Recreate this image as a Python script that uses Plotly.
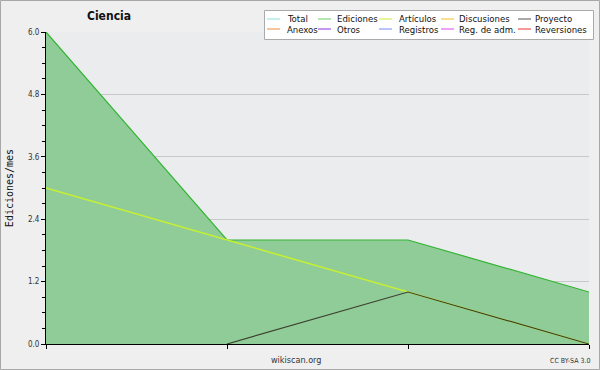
import plotly.graph_objects as go

# ---- data ----
periods = [0, 1, 2, 3]
series_names = ["Total", "Ediciones", "Artículos", "Discusiones", "Proyecto",
                "Anexos", "Otros", "Registros", "Reg. de adm.", "Reversiones"]
series_colors = ["#88e0e0", "#66cc66", "#ccee33", "#f0c020", "#555555",
                 "#f08840", "#8833dd", "#7788ff", "#dd44ee", "#ee3333"]
ediciones = [6.0, 2.0, 2.0, 1.0]
articulos = [3.0, 2.0, 1.0, 0.0]
proyecto = [None, 0.0, 1.0, 0.0]
y_ticks = [0.0, 1.2, 2.4, 3.6, 4.8, 6.0]

values = {"Ediciones": ediciones, "Artículos": articulos, "Proyecto": proyecto}

fig = go.Figure()
for name, color in zip(series_names, series_colors):
    if name == "Ediciones":
        fig.add_trace(go.Scatter(x=periods, y=values[name], name=name, mode="lines",
                                 line=dict(color="#33b533", width=1.2),
                                 fill="tozeroy", fillcolor="#90cc98"))
    elif name == "Artículos":
        fig.add_trace(go.Scatter(x=periods, y=values[name], name=name, mode="lines",
                                 line=dict(color="#c8f030", width=1.5)))
    elif name == "Proyecto":
        fig.add_trace(go.Scatter(x=periods, y=values[name], name=name, mode="lines",
                                 line=dict(color="#3c4030", width=1.2)))
    else:
        fig.add_trace(go.Scatter(x=[None], y=[None], name=name, mode="lines",
                                 line=dict(color=color, width=1.2)))

L, R, T, B = 46, 11, 32, 26
W, H = 600, 370
pw, ph = W - L - R, H - T - B

def px_x(p):
    return (p - L) / pw

def px_y(p):
    return (H - B - p) / ph

# ---- hand-laid legend (layout only) ----
legend_line_x = [267, 318, 379, 441, 518]
legend_text_x = [285, 335, 397, 457, 533]
legend_row_y = [19, 29]
shapes = [
    dict(type="rect", xref="paper", yref="paper",
         x0=px_x(0.5), x1=px_x(599.5), y0=px_y(369.5), y1=px_y(0.5),
         line=dict(color="#a8a8a8", width=1), layer="below"),
    dict(type="rect", xref="paper", yref="paper",
         x0=px_x(264.5), x1=px_x(593.5), y0=px_y(39.5), y1=px_y(10.5),
         fillcolor="#ffffff", line=dict(color="#aaaaaa", width=1), layer="above"),
]
annotations = []
for i, (name, color) in enumerate(zip(series_names, series_colors)):
    row, col = divmod(i, 5)
    yy = legend_row_y[row]
    shapes.append(dict(type="line", xref="paper", yref="paper",
                       x0=px_x(legend_line_x[col]), x1=px_x(legend_line_x[col] + 13),
                       y0=px_y(yy), y1=px_y(yy), line=dict(color=color, width=1)))
    annotations.append(dict(text=name, xref="paper", yref="paper",
                            x=px_x(legend_text_x[col]), y=px_y(yy),
                            xanchor="left", yanchor="middle", showarrow=False,
                            font=dict(family="DejaVu Sans Condensed", size=9.5, color="#111")))

annotations += [
    dict(text="<b>Ciencia</b>", xref="paper", yref="paper", x=px_x(85), y=px_y(16),
         xanchor="left", yanchor="middle", showarrow=False,
         font=dict(family="DejaVu Sans Condensed", size=12, color="#111")),
    dict(text="wikiscan.org", xref="paper", yref="paper", x=px_x(296), y=px_y(360),
         xanchor="center", yanchor="middle", showarrow=False,
         font=dict(family="DejaVu Sans Condensed", size=9, color="#333")),
    dict(text="CC BY-SA 3.0", xref="paper", yref="paper", x=px_x(592), y=px_y(361),
         xanchor="right", yanchor="middle", showarrow=False,
         font=dict(family="DejaVu Sans Condensed", size=7, color="#333")),
]

fig.update_layout(
    width=W, height=H,
    margin=dict(l=L, r=R, t=T, b=B, autoexpand=False),
    paper_bgcolor="#efefef",
    plot_bgcolor="#ebecee",
    font=dict(family="DejaVu Sans", size=10, color="#222"),
    showlegend=False,
    hovermode=False,
    xaxis=dict(range=[0, 3], showgrid=False, zeroline=False, showticklabels=False,
               tickvals=periods, ticks="outside", ticklen=4, tickcolor="#000",
               showline=True, linecolor="#000", linewidth=1, automargin=False),
    yaxis=dict(range=[0, 6.0], tickvals=y_ticks, tickformat=".1f",
               ticks="outside", ticklen=4, tickcolor="#000",
               tickfont=dict(family="DejaVu Sans Condensed", size=8, color="#333"),
               showline=True, linecolor="#000", linewidth=1,
               showgrid=True, gridcolor="#c8c8c8", gridwidth=1, zeroline=False,
               minor=dict(dtick=0.3, ticks="outside", ticklen=3, tickcolor="#000", showgrid=False),
               automargin=False,
               title=dict(text="Ediciones/mes",
                          font=dict(family="DejaVu Sans Mono", size=10, color="#111"),
                          standoff=12)),
    shapes=shapes,
    annotations=annotations,
)

fig.write_html("out.html", config={"displayModeBar": False},
               post_script="document.body.style.margin='0';document.body.style.overflow='hidden';")
